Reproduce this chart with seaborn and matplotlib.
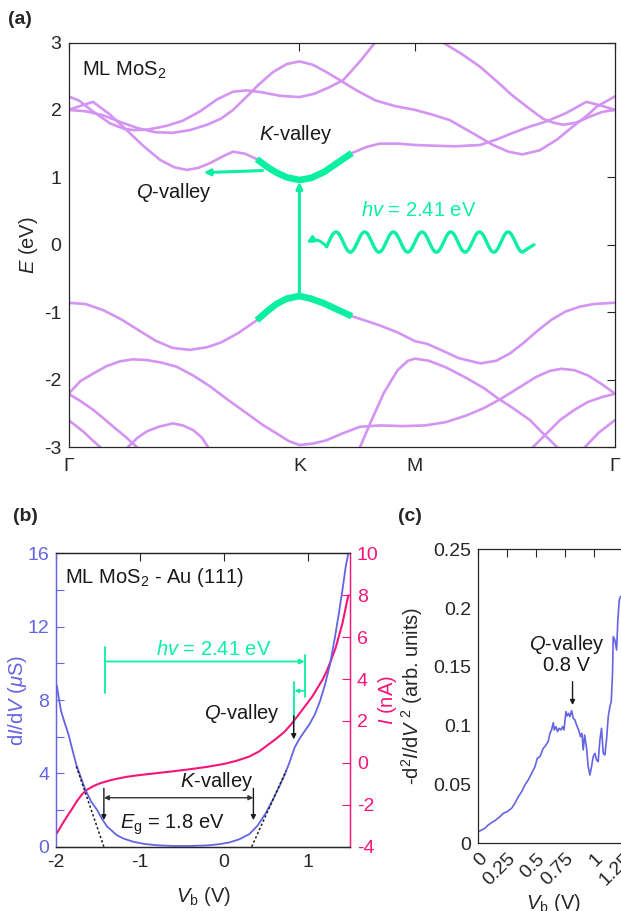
import numpy as np
import matplotlib
matplotlib.use("Agg")
import matplotlib.pyplot as plt
import seaborn as sns

sns.set_theme(style="white")
plt.rcParams['font.family'] = ['Liberation Sans', 'DejaVu Sans']
plt.rcParams['mathtext.fontset'] = 'custom'
plt.rcParams['mathtext.rm'] = 'Liberation Sans'
plt.rcParams['mathtext.it'] = 'Liberation Sans:italic'
plt.rcParams['mathtext.bf'] = 'Liberation Sans:bold'
plt.rcParams['axes.unicode_minus'] = False

# ---------------- data: (a) band structure ----------------
k_ticks = [0, 1.333, 2.0, 3.155]
k_tick_labels = ['Γ', 'K', 'M', 'Γ']

cb1_k = [0, 0.07, 0.141, 0.24, 0.336, 0.43, 0.528, 0.61, 0.682, 0.75, 0.816, 0.89, 0.95, 1.02,
         1.087, 1.15, 1.20, 1.26, 1.333, 1.40, 1.476, 1.55, 1.636, 1.72, 1.796, 1.90, 2.0, 2.10,
         2.23, 2.376, 2.47, 2.566, 2.66, 2.76, 2.87, 2.99, 3.08, 3.155]
cb1_E = [2.00, 2.06, 2.12, 1.93, 1.70, 1.47, 1.26, 1.15, 1.11, 1.14, 1.21, 1.31, 1.38, 1.35,
         1.27, 1.15, 1.07, 1.00, 0.96, 0.99, 1.08, 1.21, 1.36, 1.45, 1.50, 1.50, 1.48, 1.47,
         1.46, 1.48, 1.56, 1.66, 1.75, 1.83, 1.95, 2.12, 2.06, 2.00]

cb2_k = [0, 0.10, 0.20, 0.30, 0.40, 0.50, 0.60, 0.70, 0.80, 0.88, 0.95, 1.03, 1.10, 1.18, 1.26,
         1.333, 1.41, 1.49, 1.567, 1.67, 1.773, 1.88, 2.0, 2.10, 2.2, 2.33, 2.45, 2.54, 2.62,
         2.72, 2.82, 2.91, 3.0, 3.05, 3.155]
cb2_E = [2.00, 1.98, 1.92, 1.82, 1.73, 1.67, 1.66, 1.70, 1.78, 1.87, 2.00, 2.20, 2.38, 2.56, 2.68,
         2.72, 2.67, 2.56, 2.44, 2.28, 2.14, 2.06, 2.00, 1.93, 1.85, 1.66, 1.48, 1.38, 1.34,
         1.40, 1.56, 1.75, 1.93, 2.05, 2.20]

cb3_k = [0, 0.06, 0.14, 0.24, 0.32, 0.38, 0.46, 0.56, 0.66, 0.76, 0.86, 0.95, 1.03, 1.12, 1.22,
         1.333, 1.42, 1.50, 1.585, 1.683, 1.77, 1.87, 1.97, 2.07, 2.161, 2.27, 2.376, 2.47, 2.56,
         2.66, 2.739, 2.80, 2.855, 2.93, 3.01, 3.08, 3.155]
cb3_E = [2.20, 2.14, 1.98, 1.80, 1.72, 1.70, 1.71, 1.76, 1.84, 1.98, 2.16, 2.27, 2.29, 2.26, 2.21,
         2.19, 2.24, 2.33, 2.44, 2.72, 3.00, 3.30, 3.45, 3.35, 3.00, 2.83, 2.64, 2.43, 2.22,
         2.02, 1.87, 1.81, 1.78, 1.81, 1.90, 1.97, 2.00]

vb1_k = [0, 0.10, 0.20, 0.30, 0.40, 0.50, 0.60, 0.70, 0.80, 0.88, 0.98, 1.087, 1.15, 1.20, 1.26,
         1.333, 1.40, 1.476, 1.55, 1.636, 1.72, 1.80, 1.90, 2.0, 2.07, 2.15, 2.25, 2.378, 2.47,
         2.55, 2.63, 2.71, 2.79, 2.87, 2.95, 3.03, 3.155]
vb1_E = [-0.86, -0.88, -0.97, -1.10, -1.26, -1.42, -1.53, -1.56, -1.52, -1.45, -1.31, -1.12, -0.98,
         -0.88, -0.80, -0.76, -0.80, -0.87, -0.96, -1.06, -1.13, -1.20, -1.30, -1.43, -1.47,
         -1.56, -1.68, -1.76, -1.72, -1.61, -1.45, -1.27, -1.11, -0.99, -0.92, -0.88, -0.86]

vb2_k = [0, 0.07, 0.143, 0.22, 0.297, 0.37, 0.451, 0.54, 0.625, 0.72, 0.817, 0.92, 1.029, 1.12,
         1.202, 1.27, 1.333, 1.41, 1.49, 1.58, 1.683, 1.80, 1.93, 2.06, 2.18, 2.30, 2.40, 2.50,
         2.60, 2.70, 2.78, 2.847, 2.92, 3.0, 3.08, 3.155]
vb2_E = [-2.21, -2.02, -1.91, -1.80, -1.73, -1.70, -1.71, -1.75, -1.81, -1.94, -2.10, -2.30, -2.50,
         -2.67, -2.80, -2.91, -2.97, -2.95, -2.90, -2.80, -2.70, -2.68, -2.69, -2.68, -2.63,
         -2.53, -2.42, -2.28, -2.12, -1.96, -1.87, -1.84, -1.86, -1.94, -2.07, -2.21]

vb3_k = [0, 0.07, 0.143, 0.20, 0.259, 0.33, 0.394, 0.46]
vb3_E = [-2.21, -2.32, -2.45, -2.57, -2.70, -2.85, -3.0, -3.2]

vb4_k = [0, 0.04, 0.085, 0.13, 0.182, 0.24]
vb4_E = [-2.6, -2.68, -2.77, -2.88, -3.0, -3.15]

vb5_k = [0.28, 0.343, 0.40, 0.451, 0.52, 0.603, 0.66, 0.72, 0.77, 0.805, 0.86]
vb5_E = [-3.2, -3.0, -2.86, -2.77, -2.70, -2.65, -2.68, -2.75, -2.86, -3.0, -3.2]

vb6_k = [1.64, 1.683, 1.75, 1.82, 1.90, 1.96, 2.0, 2.08, 2.18, 2.30, 2.40, 2.48, 2.57, 2.664,
         2.74, 2.82, 2.88]
vb6_E = [-3.2, -3.0, -2.6, -2.2, -1.86, -1.72, -1.69, -1.72, -1.82, -1.98, -2.13, -2.28, -2.43,
         -2.60, -2.80, -3.0, -3.15]

vb7_k = [2.62, 2.682, 2.76, 2.838, 2.92, 3.0, 3.08, 3.155]
vb7_E = [-3.15, -3.0, -2.80, -2.60, -2.45, -2.33, -2.26, -2.21]

vb8_k = [2.94, 2.982, 3.06, 3.155]
vb8_E = [-3.1, -3.0, -2.79, -2.6]

bands = [(cb1_k, cb1_E), (cb2_k, cb2_E), (cb3_k, cb3_E), (vb1_k, vb1_E), (vb2_k, vb2_E),
         (vb3_k, vb3_E), (vb4_k, vb4_E), (vb5_k, vb5_E), (vb6_k, vb6_E), (vb7_k, vb7_E),
         (vb8_k, vb8_E)]
k_valley_range = (1.08, 1.64)
E_vbm, E_cbm = -0.76, 0.93

# ---------------- data: (b) STS ----------------
didv_V = [-1.99, -1.97, -1.94, -1.90, -1.85, -1.80, -1.76, -1.71, -1.65, -1.58, -1.51, -1.45,
          -1.39, -1.33, -1.28, -1.20, -1.08, -0.95, -0.80, -0.60, -0.40, -0.20, -0.05, 0.07,
          0.18, 0.30, 0.40, 0.50, 0.58, 0.66, 0.72, 0.78, 0.84, 0.90, 0.96, 1.02, 1.08, 1.14,
          1.20, 1.26, 1.32, 1.37, 1.41, 1.45, 1.48]
didv = [8.8, 8.2, 7.4, 6.8, 6.1, 5.2, 4.5, 3.85, 3.1, 2.45, 2.0, 1.5,
        1.09, 0.85, 0.64, 0.45, 0.27, 0.15, 0.08, 0.04, 0.04, 0.07, 0.14, 0.24,
        0.40, 0.68, 1.15, 1.85, 2.55, 3.3, 3.9, 4.6, 5.4, 5.9, 6.3, 6.7, 7.2, 7.9,
        8.8, 9.9, 11.4, 12.8, 14.0, 15.3, 16.0]

iv_V = [-1.99, -1.93, -1.87, -1.81, -1.75, -1.69, -1.63, -1.55, -1.48, -1.38, -1.28, -1.15,
        -1.00, -0.80, -0.60, -0.40, -0.20, 0.00, 0.15, 0.30, 0.42, 0.52, 0.62, 0.72, 0.81,
        0.93, 1.05, 1.17, 1.22, 1.27, 1.33, 1.41, 1.48]
iv_I = [-3.36, -2.95, -2.57, -2.20, -1.82, -1.50, -1.28, -1.10, -0.98, -0.86, -0.76, -0.66,
        -0.58, -0.49, -0.40, -0.30, -0.19, -0.05, 0.10, 0.30, 0.55, 0.85, 1.15, 1.48, 1.89,
        2.52, 3.16, 3.95, 4.35, 4.85, 5.50, 6.66, 8.00]

tan_left_V, tan_left_y = [-1.43, -1.76], [0.0, 4.4]
tan_right_V, tan_right_y = [0.33, 0.74], [0.0, 4.15]
Eg_range = (-1.43, 0.35)
hv_range = (-1.42, 0.96)
q_valley_V = 0.83

# ---------------- data: (c) -d2I/dV2 ----------------
c_V = [0.000, 0.029, 0.057, 0.086, 0.115, 0.144, 0.187, 0.216, 0.250, 0.287, 0.316, 0.345,
       0.374, 0.402, 0.431, 0.460, 0.489, 0.509, 0.532, 0.560, 0.575, 0.603, 0.618, 0.632,
       0.647, 0.655, 0.670, 0.684, 0.698, 0.713, 0.727, 0.739, 0.756, 0.767, 0.779, 0.790,
       0.805, 0.819, 0.833, 0.848, 0.865, 0.882, 0.894, 0.905, 0.917, 0.934, 0.948, 0.963,
       0.977, 0.991, 1.006, 1.020, 1.034, 1.049, 1.063, 1.078, 1.092, 1.106, 1.121, 1.135,
       1.147, 1.158, 1.164, 1.178, 1.193, 1.204, 1.216, 1.227]
c_y = [0.0099, 0.0113, 0.0128, 0.0156, 0.0176, 0.0193, 0.0227, 0.0255, 0.0269, 0.0298, 0.0340,
       0.0397, 0.0439, 0.0496, 0.0539, 0.0595, 0.0652, 0.0723, 0.0737, 0.0808, 0.0822, 0.0865,
       0.0935, 0.0964, 0.1026, 0.0964, 0.0992, 0.0950, 0.0978, 0.0964, 0.0992, 0.0964, 0.1120,
       0.1083, 0.1105, 0.1077, 0.1128, 0.1063, 0.1049, 0.1006, 0.0964, 0.0907, 0.0935, 0.0794,
       0.0921, 0.0808, 0.0652, 0.0581, 0.0652, 0.0737, 0.0765, 0.0709, 0.0694, 0.0879, 0.0978,
       0.0765, 0.0751, 0.0879, 0.1077, 0.1162, 0.1205, 0.1446, 0.1757, 0.1729, 0.1644, 0.1899,
       0.2069, 0.2098]

# ---------------- styles ----------------
W, H = 621, 911
band_color = '#D394F2'
green = '#0BEFA0'
blue = '#6464E4'
pink = '#F5157A'
dark = '#262626'
FS_TICK = 14
FS_TXT = 14.5

fig = plt.figure(figsize=(W / 100, H / 100), dpi=100)


def style_axes(ax):
    for s in ax.spines.values():
        s.set_color(dark)
        s.set_linewidth(0.9)
    ax.tick_params(direction='in', length=6, width=0.8, labelsize=FS_TICK, colors=dark,
                   top=True, right=True, pad=5)


# ===== panel (a) =====
ax_a = fig.add_axes([68.5 / W, 1 - 447 / H, 546.5 / W, 404.5 / H])
for kk, ee in bands:
    sns.lineplot(x=kk, y=ee, ax=ax_a, color=band_color, linewidth=1.9, sort=False,
                 estimator=None, legend=False)
for kk, ee in [(cb1_k, cb1_E), (vb1_k, vb1_E)]:
    kk = np.asarray(kk)
    ee = np.asarray(ee)
    m = (kk >= k_valley_range[0]) & (kk <= k_valley_range[1])
    sns.lineplot(x=kk[m], y=ee[m], ax=ax_a, color=green, linewidth=4.8, sort=False,
                 estimator=None, legend=False, solid_capstyle='butt')
ax_a.set_xlim(k_ticks[0], k_ticks[-1])
ax_a.set_ylim(-3, 3)
ax_a.set_xticks(k_ticks)
ax_a.set_xticklabels(k_tick_labels)
ax_a.set_yticks([-3, -2, -1, 0, 1, 2, 3])
style_axes(ax_a)
ax_a.tick_params(axis='x', pad=8)
ax_a.set_xlabel('')
ax_a.set_ylabel(r'$E$ (eV)', fontsize=FS_TXT, color=dark, labelpad=3)

# transitions / photon
ax_a.annotate('', xy=(k_ticks[1], E_cbm), xytext=(k_ticks[1], E_vbm),
              arrowprops=dict(arrowstyle='-|>', color=green, lw=2.2, mutation_scale=9,
                              shrinkA=0, shrinkB=0))
ax_a.annotate('', xy=(0.78, 1.07), xytext=(1.12, 1.10),
              arrowprops=dict(arrowstyle='-|>', color=green, lw=2.2, mutation_scale=9,
                              shrinkA=0, shrinkB=0))
wave_k = np.linspace(1.49, 2.62, 400)
wave_E = 0.04 + 0.15 * np.cos(2 * np.pi * (wave_k - 1.544) / 0.1657)
ax_a.plot(np.r_[wave_k, 2.65, 2.687], np.r_[wave_E, -0.06, 0.0], color=green, lw=2.4)
ax_a.annotate('', xy=(1.373, 0.03), xytext=(1.49, wave_E[0]),
              arrowprops=dict(arrowstyle='-|>', color=green, lw=2.2, mutation_scale=9,
                              shrinkA=0, shrinkB=0, connectionstyle='arc3,rad=0.4'))
ax_a.text(0.08, 2.59, r'ML MoS$_2$', fontsize=FS_TXT, color='k', va='center', ha='left')
ax_a.text(1.31, 1.63, r'$K$-valley', fontsize=FS_TXT, color='k', va='center', ha='center')
ax_a.text(0.61, 0.78, r'$Q$-valley', fontsize=FS_TXT, color='k', va='center', ha='center')
ax_a.text(2.02, 0.51, r'$hv$ = 2.41 eV', fontsize=FS_TXT, color=green, va='center', ha='center')

# ===== panel (b) =====
ax_b = fig.add_axes([56 / W, 1 - 846.7 / H, 294 / W, 293.4 / H])
ax_b2 = ax_b.twinx()
sns.lineplot(x=didv_V, y=didv, ax=ax_b, color=blue, linewidth=1.3, sort=False,
             estimator=None, legend=False)
ax_b.plot(tan_left_V, tan_left_y, linestyle=(0, (1.5, 1.5)), color='k', lw=1.1)
ax_b.plot(tan_right_V, tan_right_y, linestyle=(0, (1.5, 1.5)), color='k', lw=1.1)
sns.lineplot(x=iv_V, y=iv_I, ax=ax_b2, color=pink, linewidth=1.5, sort=False,
             estimator=None, legend=False)
ax_b.set_xlim(-2.0, 1.5)
ax_b.set_ylim(0, 16)
ax_b2.set_ylim(-4, 10)
style_axes(ax_b)
style_axes(ax_b2)
ax_b.set_xticks([-2, -1, 0, 1])
ax_b.set_yticks([0, 4, 8, 12, 16])
ax_b.set_yticks([2, 6, 10, 14], minor=True)
ax_b.tick_params(axis='y', which='both', colors=blue, right=False, direction='in', length=6)
ax_b.tick_params(axis='y', which='minor', length=6, width=0.8, left=True)
ax_b2.set_yticks([-4, -2, 0, 2, 4, 6, 8, 10])
ax_b2.tick_params(axis='y', colors=pink, left=False, right=True)
for a in (ax_b, ax_b2):
    a.spines['left'].set_color(blue)
    a.spines['right'].set_color(pink)
ax_b.set_xlabel(r'$V_\mathrm{b}$ (V)', fontsize=FS_TXT, color=dark, labelpad=10)
ax_b.set_ylabel(r'd$I$/d$V$ ($\mu$S)', fontsize=FS_TXT, color=blue, labelpad=-1)
ax_b2.set_ylabel(r'$I$ (nA)', fontsize=FS_TXT, color=pink, labelpad=-2)
ax_b.set_zorder(ax_b2.get_zorder() + 1)
ax_b.patch.set_visible(False)

ax_b.text(-1.89, 14.7, r'ML MoS$_2$ - Au (111)', fontsize=FS_TXT, color='k', va='center')
# hv bracket
ax_b.plot([hv_range[0]] * 2, [8.36, 10.9], color=green, lw=1.3)
ax_b.plot([hv_range[1]] * 2, [8.18, 10.45], color=green, lw=1.3)
ax_b.annotate('', xy=(hv_range[1], 10.1), xytext=(hv_range[0], 10.1),
              arrowprops=dict(arrowstyle='-|>', color=green, lw=1.3, mutation_scale=7,
                              shrinkA=0, shrinkB=0))
ax_b.text(-0.12, 10.25, r'$hv$ = 2.41 eV', fontsize=FS_TXT, color=green, ha='center', va='bottom')
ax_b.plot([q_valley_V + 0.004] * 2, [6.8, 9.0], color=green, lw=1.3)
ax_b.annotate('', xy=(q_valley_V + 0.01, 8.5), xytext=(hv_range[1], 8.5),
              arrowprops=dict(arrowstyle='-|>', color=green, lw=1.1, mutation_scale=6,
                              shrinkA=0, shrinkB=0))
ax_b.annotate('', xy=(q_valley_V, 5.85), xytext=(q_valley_V, 7.13),
              arrowprops=dict(arrowstyle='-|>', color='k', lw=1.1, mutation_scale=7,
                              shrinkA=0, shrinkB=0))
ax_b.text(0.21, 7.27, r'$Q$-valley', fontsize=FS_TXT, color='k', ha='center', va='center')
ax_b.text(-0.09, 3.55, r'$K$-valley', fontsize=FS_TXT, color='k', ha='center', va='center')
# Eg bracket
ax_b.annotate('', xy=(Eg_range[1], 2.67), xytext=(Eg_range[0], 2.67),
              arrowprops=dict(arrowstyle='<|-|>', color='#333333', lw=1.0, mutation_scale=7,
                              shrinkA=0, shrinkB=0))
for v in Eg_range:
    ax_b.annotate('', xy=(v, 1.45), xytext=(v, 3.18),
                  arrowprops=dict(arrowstyle='-|>', color='k', lw=1.0, mutation_scale=7,
                                  shrinkA=0, shrinkB=0))
ax_b.text(-0.61, 1.18, r'$E_\mathrm{g}$ = 1.8 eV', fontsize=FS_TXT, color='k', ha='center',
          va='center')

# ===== panel (c) =====
ax_c = fig.add_axes([478.3 / W, 1 - 843.3 / H, (629 - 478.3) / W, 294 / H])
sns.lineplot(x=c_V, y=c_y, ax=ax_c, color=blue, linewidth=1.2, sort=False, estimator=None,
             legend=False)
ax_c.set_xlim(0, 1.3)
ax_c.set_ylim(0, 0.25)
ax_c.set_xticks([0, 0.25, 0.5, 0.75, 1, 1.25])
ax_c.set_xticklabels(['0', '0.25', '0.5', '0.75', '1', '1.25'])
ax_c.set_yticks([0, 0.05, 0.1, 0.15, 0.2, 0.25])
ax_c.set_yticklabels(['0', '0.05', '0.1', '0.15', '0.2', '0.25'])
style_axes(ax_c)
for lab in ax_c.get_xticklabels():
    lab.set_rotation(45)
    lab.set_ha('right')
    lab.set_va('top')
    lab.set_rotation_mode('anchor')
ax_c.set_xlabel(r'$V_\mathrm{b}$ (V)', fontsize=FS_TXT, color=dark, labelpad=2)
ax_c.set_ylabel(r'-d$^2$$I$/d$V^{\ 2}$ (arb. units)', fontsize=FS_TXT, color=dark, labelpad=6)
ax_c.annotate('', xy=(0.813, 0.1176), xytext=(0.813, 0.1375),
              arrowprops=dict(arrowstyle='-|>', color='k', lw=1.0, mutation_scale=7,
                              shrinkA=0, shrinkB=0))
ax_c.text(0.76, 0.161, '$Q$-valley\n0.8 V', fontsize=FS_TXT, color='k', ha='center',
          va='center', linespacing=1.0)

# panel labels
fig.text(8 / W, 1 - 11 / H, '(a)', fontsize=14, fontweight='bold', va='top', ha='left')
fig.text(13 / W, 1 - 508 / H, '(b)', fontsize=14, fontweight='bold', va='top', ha='left')
fig.text(398 / W, 1 - 508 / H, '(c)', fontsize=14, fontweight='bold', va='top', ha='left')

fig.savefig('out.png', dpi=100)
